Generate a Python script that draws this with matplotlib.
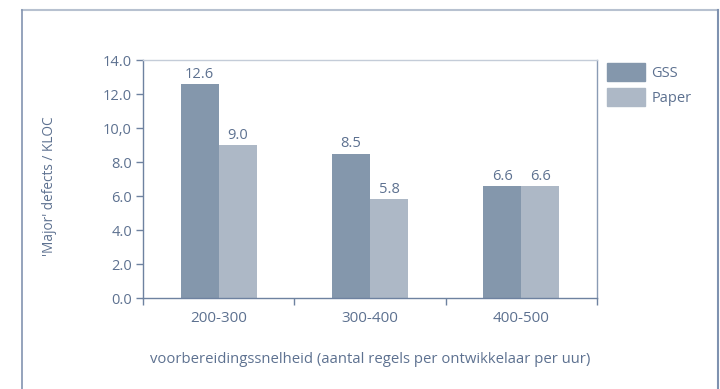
import numpy as np
import matplotlib
matplotlib.use("Agg")
import matplotlib.pyplot as plt
from matplotlib.lines import Line2D
from matplotlib.patches import Patch

categories = ["200-300", "300-400", "400-500"]
gss = [12.6, 8.5, 6.6]
paper = [9.0, 5.8, 6.6]
yticks = [0, 2, 4, 6, 8, 10, 12, 14]
ytick_labels = ["0.0", "2.0", "4.0", "6.0", "8.0", "10,0", "12.0", "14.0"]

TXT = "#5d7190"
AX = "#6e82a0"
C_GSS = "#8497ac"
C_PAP = "#adb8c6"

plt.rcParams["font.family"] = ["Open Sans", "DejaVu Sans"]

fig = plt.figure(figsize=(7.2, 3.89), dpi=100)
ax = fig.add_axes([143 / 720, 91 / 389, 454 / 720, 238 / 389])

x = np.arange(len(categories))
w = 0.252
b1 = ax.bar(x - w / 2, gss, w, color=C_GSS, label="GSS")
b2 = ax.bar(x + w / 2, paper, w, color=C_PAP, label="Paper")
for bars in (b1, b2):
    for r in bars:
        ax.text(r.get_x() + r.get_width() / 2, r.get_height() + 0.12,
                f"{r.get_height():.1f}", ha="center", va="bottom",
                fontsize=10.5, color=TXT)

ax.set_xlim(-0.5, 2.5)
ax.set_ylim(0, 14)
ax.set_yticks(yticks)
ax.set_yticklabels(ytick_labels)
ax.set_xticks(x)
ax.set_xticklabels(categories)
ax.set_xticks([-0.5, 0.5, 1.5, 2.5], minor=True)
ax.tick_params(axis="x", which="major", length=0, pad=9, labelsize=11, labelcolor=TXT)
ax.tick_params(axis="x", which="minor", length=5, color=AX, width=1)
ax.tick_params(axis="y", length=5, color=AX, width=1, labelsize=10.5, labelcolor=TXT, pad=3)

for s in ("left", "bottom"):
    ax.spines[s].set_color(AX)
    ax.spines[s].set_linewidth(1)
ax.spines["top"].set_color("#c4ccd8")
ax.spines["right"].set_color("#8a9bb4")
ax.spines["top"].set_linewidth(1)
ax.spines["right"].set_linewidth(1)

ax.set_ylabel("'Major' defects / KLOC", fontsize=9.8, color=TXT)
ax.yaxis.set_label_coords(-0.19, 0.47)
ax.set_xlabel("voorbereidingssnelheid (aantal regels per ontwikkelaar per uur)",
              fontsize=10.7, color=TXT, labelpad=19)

handles = [Patch(color=C_GSS), Patch(color=C_PAP)]
leg = fig.legend(handles, ["GSS", "Paper"], loc="upper left",
                 bbox_to_anchor=(594 / 720, 1 - 50 / 389), frameon=False,
                 handlelength=2.6, handleheight=1.55, handletextpad=0.45,
                 labelspacing=0.45, fontsize=10.5)
for t in leg.get_texts():
    t.set_color(TXT)

# outer frame
fig.add_artist(Line2D([22 / 720, 718 / 720], [1 - 10 / 389, 1 - 10 / 389],
                      transform=fig.transFigure, color="#b7c1d0", lw=1.5))
fig.add_artist(Line2D([22 / 720, 22 / 720], [0, 1 - 10 / 389],
                      transform=fig.transFigure, color="#8394b0", lw=1.2))
fig.add_artist(Line2D([718 / 720, 718 / 720], [0, 1 - 10 / 389],
                      transform=fig.transFigure, color="#7f92b0", lw=1.5))

fig.savefig("out.png", dpi=100)
